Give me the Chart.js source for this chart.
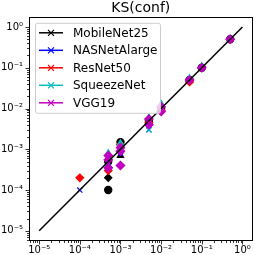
<!DOCTYPE html>
<html><head><meta charset="utf-8">
<script src="https://cdn.jsdelivr.net/npm/chart.js@4.4.1/dist/chart.umd.min.js"></script>
<style>html,body{margin:0;padding:0;background:#fff;overflow:hidden}</style>
</head><body>
<canvas id="c" width="258" height="255"></canvas>
<script>
// ---- data ----
const chartTitle = 'KS(conf)';
const modelNames = ['MobileNet25', 'NASNetAlarge', 'ResNet50', 'SqueezeNet', 'VGG19'];

const mobilenetX = [5e-4, 5e-4, 5e-4, 1e-3, 1e-3, 5e-3, 1e-2, 5e-2, 1e-1, 5e-1];
const mobilenetY = [1e-4, 2e-4, 5e-4, 1.5e-3, 7e-4, 5e-3, 1e-2, 5e-2, 1e-1, 5e-1];

const nasnetX = [1e-4, 5e-4, 1e-3, 5e-3, 1e-2, 5e-2, 1e-1, 5e-1];
const nasnetY = [1e-4, 4.5e-4, 8e-4, 3e-3, 9e-3, 5e-2, 1e-1, 5e-1];

const resnetX = [1e-4, 5e-4, 1e-3, 5e-3, 1e-2, 5e-2, 1e-1, 5e-1];
const resnetY = [2e-4, 3e-4, 1.3e-3, 4.5e-3, 9e-3, 4.5e-2, 1e-1, 5e-1];

const squeezeX = [5e-4, 5e-4, 1e-3, 1e-3, 5e-3, 5e-3, 1e-2, 5e-2, 1e-1, 5e-1];
const squeezeY = [8e-4, 4e-4, 1.4e-3, 9e-4, 3e-3, 6e-3, 1.3e-2, 5.5e-2, 1.1e-1, 5.2e-1];

const vggX = [5e-4, 5e-4, 5e-4, 1e-3, 1e-3, 1e-3, 5e-3, 5e-3, 1e-2, 1e-2, 5e-2, 1e-1, 5e-1];
const vggY = [7e-4, 5.5e-4, 3.5e-4, 1.1e-3, 9e-4, 4e-4, 5.5e-3, 4e-3, 1.1e-2, 8.5e-3, 5e-2, 1e-1, 5e-1];

const identityX = [1e-5, 1];
const identityY = [1e-5, 1];

const tickExponents = [-5, -4, -3, -2, -1, 0];
const tickLabels = ['10\u207B\u2075', '10\u207B\u2074', '10\u207B\u00B3', '10\u207B\u00B2', '10\u207B\u00B9', '10\u2070'];

// ---- styles ----
const modelColors = ['#000000', '#0000ff', '#ff0000', '#00bfbf', '#bf00bf'];
const modelRadii = [3.6, 3.6, 3.8, 3.6, 4.2];
const mobilenetMarkers = ['circle', 'rectRot', 'circle', 'circle', 'triangle', 'circle', 'circle', 'circle', 'circle', 'circle'];
const nasnetMarkers = 'crossRot';
const resnetMarkers = 'rectRot';
const squeezeMarkers = ['triangle', 'triangle', 'triangle', 'triangle', 'crossRot', 'triangle', 'triangle', 'triangle', 'triangle', 'triangle'];
const vggMarkers = 'rectRot';

const pts = (xs, ys) => xs.map((x, i) => ({x: x, y: ys[i]}));
const seriesX = [mobilenetX, nasnetX, resnetX, squeezeX, vggX];
const seriesY = [mobilenetY, nasnetY, resnetY, squeezeY, vggY];
const seriesMarkers = [mobilenetMarkers, nasnetMarkers, resnetMarkers, squeezeMarkers, vggMarkers];

const datasets = modelNames.map((name, i) => ({
  type: 'scatter',
  label: name,
  data: pts(seriesX[i], seriesY[i]),
  borderColor: modelColors[i],
  backgroundColor: modelColors[i],
  pointStyle: seriesMarkers[i],
  pointRadius: modelRadii[i],
  borderWidth: 1.2,
  showLine: false,
  order: 5 - i
}));
datasets.push({
  type: 'line',
  label: 'identity',
  data: pts(identityX, identityY),
  borderColor: '#000',
  borderWidth: 1.5,
  pointRadius: 0,
  fill: false,
  order: -1
});

const FONT = 'DejaVu Sans';
const expOf = v => Math.round(Math.log10(v));
const labelFor = v => { const k = tickExponents.indexOf(expOf(v)); return k >= 0 ? tickLabels[k] : ''; };

const framePlugin = {
  id: 'frame',
  afterDatasetsDraw(chart) {
    const ctx = chart.ctx, a = chart.chartArea;
    const xs = chart.scales.x, ys = chart.scales.y;
    ctx.save();
    ctx.strokeStyle = '#000';
    ctx.lineWidth = 1;
    ctx.strokeRect(Math.round(a.left) + 0.5, Math.round(a.top) + 0.5, Math.round(a.right - a.left) - 1, Math.round(a.bottom - a.top) - 1);
    ctx.lineWidth = 0.8;
    ctx.beginPath();
    for (let e = -6; e <= 0; e++) {
      for (let m = 1; m <= 9; m++) {
        const v = m * Math.pow(10, e);
        const len = m === 1 ? 3.5 : 2;
        if (v >= xs.min && v <= xs.max) {
          const px = Math.round(xs.getPixelForValue(v)) + 0.5;
          ctx.moveTo(px, a.bottom);
          ctx.lineTo(px, a.bottom + len);
        }
        if (v >= ys.min && v <= ys.max) {
          const py = Math.round(ys.getPixelForValue(v)) + 0.5;
          ctx.moveTo(a.left, py);
          ctx.lineTo(a.left - len, py);
        }
      }
    }
    ctx.stroke();
    ctx.restore();
  }
};

const legendPlugin = {
  id: 'boxLegend',
  afterDraw(chart) {
    const ctx = chart.ctx, a = chart.chartArea;
    const bx = a.left + 6, by = a.top + 6, bw = 125, bh = 90;
    ctx.save();
    ctx.fillStyle = 'rgba(255,255,255,0.8)';
    ctx.strokeStyle = '#cccccc';
    ctx.lineWidth = 1;
    ctx.beginPath();
    ctx.roundRect(bx + 0.5, by + 0.5, bw, bh, 2);
    ctx.fill();
    ctx.stroke();
    ctx.font = '12px "' + FONT + '"';
    ctx.textBaseline = 'middle';
    ctx.textAlign = 'left';
    modelNames.forEach((name, i) => {
      const y = by + 10 + i * 17.5;
      const c = modelColors[i];
      ctx.strokeStyle = c;
      ctx.lineWidth = 1.5;
      ctx.beginPath();
      ctx.moveTo(bx + 4, y);
      ctx.lineTo(bx + 28, y);
      ctx.stroke();
      ctx.lineWidth = 1.2;
      const cx = bx + 16, r = 3;
      ctx.beginPath();
      ctx.moveTo(cx - r, y - r); ctx.lineTo(cx + r, y + r);
      ctx.moveTo(cx - r, y + r); ctx.lineTo(cx + r, y - r);
      ctx.stroke();
      ctx.fillStyle = '#000';
      ctx.fillText(name, bx + 38, y + 1);
    });
    ctx.restore();
  }
};

const axisCommon = {
  type: 'logarithmic',
  min: Math.pow(10, -5.25),
  max: Math.pow(10, 0.25),
  afterBuildTicks: s => { s.ticks = tickExponents.map(e => ({value: Math.pow(10, e), major: true})); },
  grid: {display: false, drawTicks: false, tickLength: 0},
  border: {display: false}
};

new Chart(document.getElementById('c'), {
  data: {datasets: datasets},
  options: {
    responsive: false,
    animation: false,
    devicePixelRatio: 1,
    layout: {padding: {left: 0, right: 1, top: 0, bottom: 0}},
    plugins: {
      legend: {display: false},
      tooltip: {enabled: false},
      title: {
        display: true, text: chartTitle, fullSize: false, color: '#000',
        font: {family: FONT, size: 14, weight: 'normal'},
        padding: {top: 0, bottom: 0}
      }
    },
    scales: {
      x: Object.assign({}, axisCommon, {
        position: 'bottom',
        ticks: {callback: v => labelFor(v), font: {family: FONT, size: 10}, color: '#000', padding: 3, maxRotation: 0, autoSkip: false},
        afterFit: s => { s.height = 14; }
      }),
      y: Object.assign({}, axisCommon, {
        position: 'left',
        ticks: {callback: v => labelFor(v), font: {family: FONT, size: 10}, color: '#000', padding: 6, autoSkip: false},
        afterFit: s => { s.width = 29; }
      })
    }
  },
  plugins: [framePlugin, legendPlugin]
});
</script>
</body></html>
